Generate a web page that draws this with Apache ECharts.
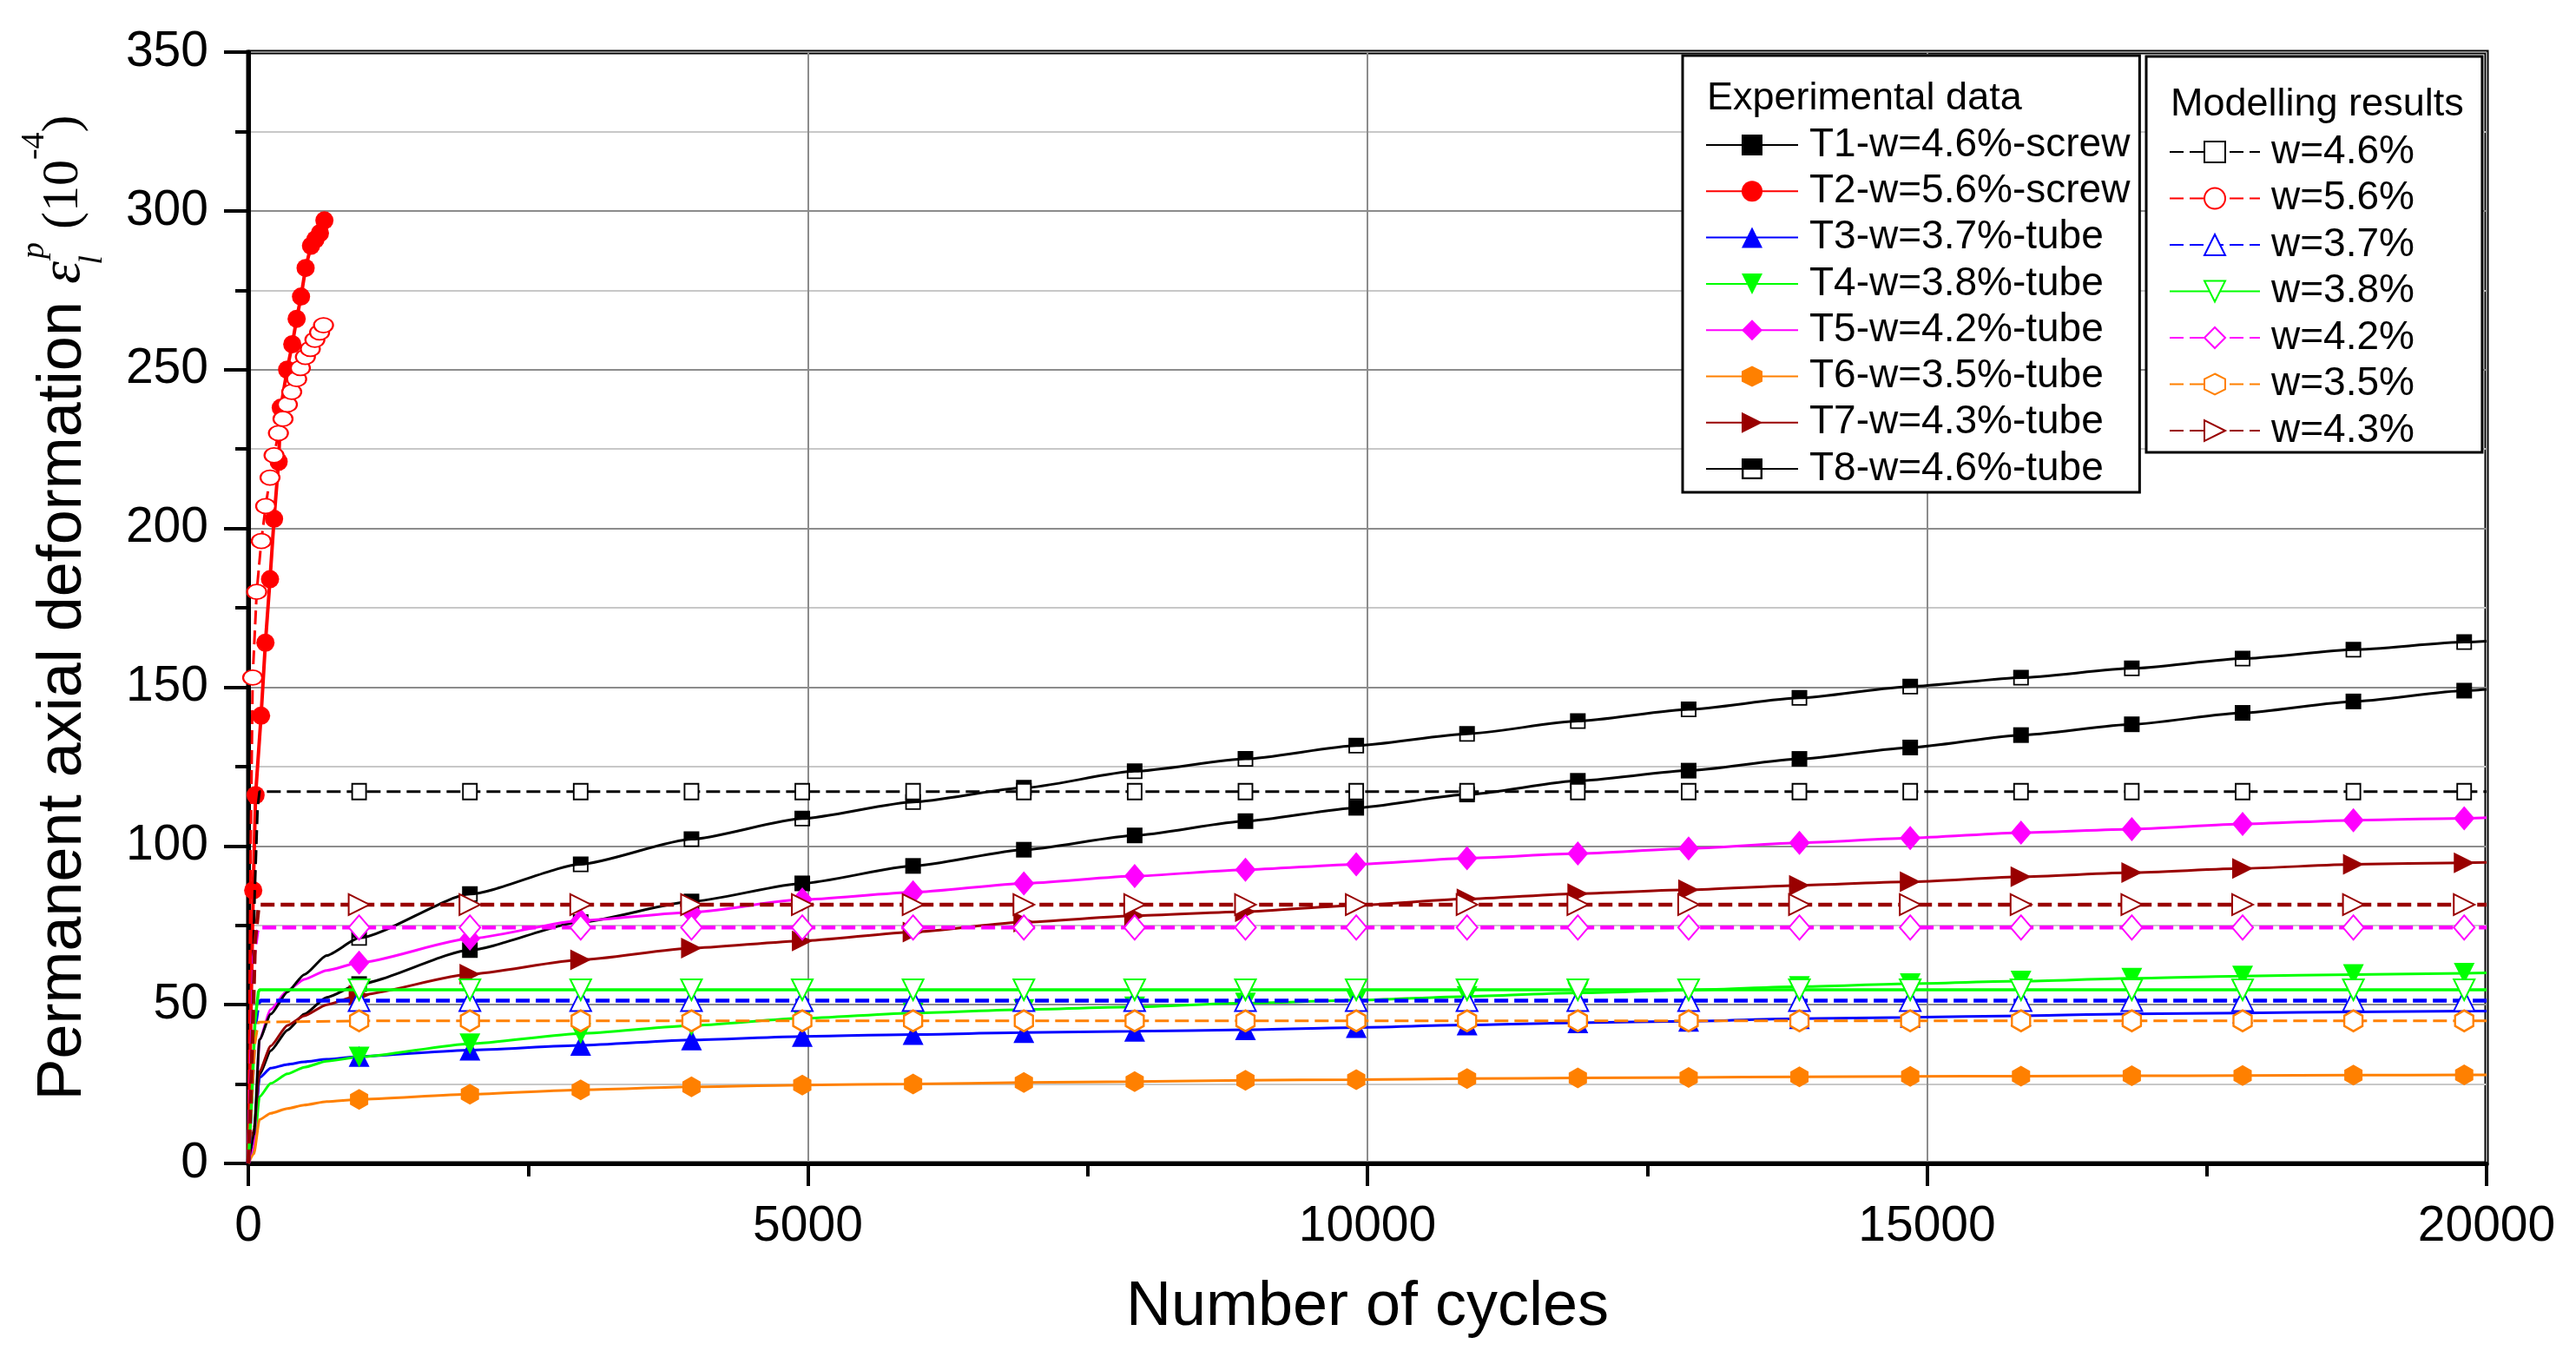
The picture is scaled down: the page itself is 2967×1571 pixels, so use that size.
<!DOCTYPE html>
<html><head><meta charset="utf-8">
<script src="https://cdn.jsdelivr.net/npm/echarts/dist/echarts.min.js"></script>
<style>html,body{margin:0;padding:0;background:#fff;}#c{width:2967px;height:1571px;}</style>
</head><body><div id="c"></div>
<script>
// ---------- data ----------
const xTicks = [0, 5000, 10000, 15000, 20000];
const yTicks = [0, 50, 100, 150, 200, 250, 300, 350];
const cycles = [990,1980,2970,3960,4950,5940,6930,7920,8910,9900,10890,11880,12870,13860,14850,15840,16830,17820,18810,19800];
const earlyCycles = [0, 50, 100, 200, 350, 500, 700];

const t1Early = [0, 8, 28, 35.5, 42, 47, 52.3];
const t1Vals = [56.5,67.2,76,82.5,88.2,93.7,98.8,103.3,107.8,112.0,116.2,120.5,123.7,127.4,131.0,134.9,138.3,141.9,145.5,148.9];
const t1End = 149.3;

const t2Cycles = [0,20,44,65,114,153,194,230,271,290,347,393,432,471,512,560,600,640,680];
const t2Vals = [0,40,86,116,141,164,184,203,221,238,250,258,266,273,282,289,291,293,297];

const t3Early = [0, 7.5, 27, 30, 31.2, 32, 32.8];
const t3Vals = [33.7,35.7,37.2,38.9,40.0,40.6,41.2,41.6,42.1,42.8,43.6,44.3,44.8,45.6,46.0,46.5,47.1,47.4,47.7,48.0];
const t3End = 48.0;

const t4Early = [0, 4, 21, 25.2, 28.2, 30.3, 32.2];
const t4Vals = [33.5,37.7,40.9,43.4,45.7,47.4,48.5,49.3,50.5,51.4,52.6,53.7,54.6,55.7,56.6,57.4,58.3,59.0,59.5,59.9];
const t4End = 60.0;

const t5Early = [0, 5, 39, 48.5, 54.5, 58, 60.8];
const t5Vals = [63.2,70.8,76.5,79.1,83.1,85.4,88.2,90.5,92.5,94.2,96.1,97.6,99.2,101.0,102.5,104.2,105.3,106.9,108.1,108.7];
const t5End = 108.9;

const t6Early = [0, 3, 13.8, 15.8, 17.3, 18.4, 19.5];
const t6Vals = [20.2,21.8,23.2,24.1,24.7,25.0,25.5,25.8,26.2,26.4,26.7,26.9,27.1,27.3,27.4,27.5,27.6,27.7,27.8,27.9];
const t6End = 27.9;

const t7Early = [0, 11, 29, 37, 43.5, 46.5, 50];
const t7Vals = [53,59.6,64.1,67.8,70.1,72.9,76.0,78.0,79.3,81.3,83.3,85.0,86.2,87.6,88.7,90.3,91.6,92.9,94.2,94.7];
const t7End = 94.8;

const t8Early = [0, 9, 39, 47, 54, 59.5, 65.5];
const t8Vals = [71,84.8,94.2,102.1,108.6,113.8,118.3,123.5,127.4,131.6,135.3,139.3,143.0,146.6,150.2,153.0,155.9,159.0,161.8,164.2];
const t8End = 164.5;

// modelling results
const m56Cycles = [0,10,20,39,75,116,155,194,230,269,310,349,388,432,465,510,554,595,637,672];
const m56Vals = [0,45,95,153,180,196,207,216,223,230,234.5,239,243,247,250.5,254,256.5,259.4,261.7,264];

const m46EarlyC = [0,30,57,83,100];
const m46EarlyV = [0,40,85,112,117.1];
const m46Vals = [117.1,117.1,117.1,117.1,117.1,117.1,117.1,117.1,117.1,117.1,117.1,117.1,117.1,117.1,117.1,117.1,117.1,117.1,117.1,117.1];

const m43EarlyC = [0,30,60,90,110];
const m43EarlyV = [0,30,70,80,81.5];
const m43Vals = [81.5,81.5,81.5,81.5,81.5,81.5,81.5,81.5,81.5,81.5,81.5,81.5,81.5,81.5,81.5,81.5,81.5,81.5,81.5,81.5];

const m42EarlyC = [0,25,50,80,100];
const m42EarlyV = [0,30,65,73,74.3];
const m42Vals = [74.3,74.3,74.3,74.3,74.3,74.3,74.3,74.3,74.3,74.3,74.3,74.3,74.3,74.3,74.3,74.3,74.3,74.3,74.3,74.3];

const m38EarlyC = [0,30,60,90,100];
const m38EarlyV = [0,20,45,54,54.7];
const m38Vals = [54.7,54.7,54.7,54.7,54.7,54.7,54.7,54.7,54.7,54.7,54.7,54.7,54.7,54.7,54.7,54.7,54.7,54.7,54.7,54.7];

const m37EarlyC = [0,30,60,90,110];
const m37EarlyV = [0,22,43,50.5,51.3];
const m37Vals = [51.3,51.3,51.3,51.3,51.3,51.3,51.3,51.3,51.3,51.3,51.3,51.3,51.3,51.3,51.3,51.3,51.3,51.3,51.3,51.3];

const m35EarlyC = [0,30,60,90,100];
const m35EarlyV = [0,20,38,44.5,44.9];
const m35Vals = [44.9,44.9,44.9,44.9,44.9,44.9,44.9,44.9,44.9,44.9,44.9,44.9,44.9,44.9,44.9,44.9,44.9,44.9,44.9,44.9];

const expNames = ['T1-w=4.6%-screw','T2-w=5.6%-screw','T3-w=3.7%-tube','T4-w=3.8%-tube','T5-w=4.2%-tube','T6-w=3.5%-tube','T7-w=4.3%-tube','T8-w=4.6%-tube'];
const modNames = ['w=4.6%','w=5.6%','w=3.7%','w=3.8%','w=4.2%','w=3.5%','w=4.3%'];

// ---------- helpers ----------
function expData(early, marks, end) {
  const out = earlyCycles.map((c, i) => ({ value: [c, early[i]], symbol: 'none' }));
  cycles.forEach((c, i) => out.push([c, marks[i]]));
  out.push({ value: [20000, end], symbol: 'none' });
  return out;
}
function modData(ec, ev, marks) {
  const out = ec.map((c, i) => ({ value: [c, ev[i]], symbol: 'none' }));
  cycles.forEach((c, i) => out.push([c, marks[i]]));
  out.push({ value: [20000, marks[marks.length - 1]], symbol: 'none' });
  return out;
}
function denseData(xs, ys, firstMark) {
  return xs.map((c, i) => i < firstMark ? { value: [c, ys[i]], symbol: 'none' } : [c, ys[i]]);
}

const HEX = 'path://M10,0 L19,5 L19,15 L10,20 L1,15 L1,5 Z';
const HALF = 'path://M0,0 L20,0 L20,20 L0,20 Z M2,10 L2,18 L18,18 L18,10 Z';

function exp(name, color, symbol, size, data, extra) {
  return Object.assign({
    name, type: 'line', data, symbol, symbolSize: size,
    smooth: 0.2, smoothMonotone: 'x',
    lineStyle: { color, width: 3, type: 'solid' },
    itemStyle: { color, borderWidth: 0 },
    z: 3
  }, extra || {});
}
function mod(name, color, symbol, size, data, lineType, width, extra) {
  return Object.assign({
    name, type: 'line', data, symbol, symbolSize: size,
    lineStyle: { color, width, type: lineType },
    itemStyle: { color, borderColor: color, borderWidth: 2.5 },
    z: 4
  }, extra || {});
}

const series = [
  exp('T1-w=4.6%-screw', '#000000', 'rect', 18, expData(t1Early, t1Vals, t1End)),
  exp('T2-w=5.6%-screw', '#ff0000', 'circle', 21, denseData(t2Cycles, t2Vals, 2), { lineStyle: { color: '#ff0000', width: 4 }, smooth: false }),
  exp('T3-w=3.7%-tube', '#0000ff', 'triangle', 24, expData(t3Early, t3Vals, t3End)),
  exp('T4-w=3.8%-tube', '#00ff00', 'triangle', 24, expData(t4Early, t4Vals, t4End), { symbolRotate: 180 }),
  exp('T5-w=4.2%-tube', '#ff00ff', 'diamond', [24, 28], expData(t5Early, t5Vals, t5End)),
  exp('T6-w=3.5%-tube', '#ff8000', HEX, [21, 24], expData(t6Early, t6Vals, t6End)),
  exp('T7-w=4.3%-tube', '#990000', 'triangle', 24, expData(t7Early, t7Vals, t7End), { symbolRotate: -90 }),
  exp('T8-w=4.6%-tube', '#000000', HALF, 18, expData(t8Early, t8Vals, t8End)),
  mod('w=4.6%', '#000000', 'emptyRect', [16, 18], modData(m46EarlyC, m46EarlyV, m46Vals), [16, 7], 3),
  mod('w=5.6%', '#ff0000', 'emptyCircle', [22, 17], denseData(m56Cycles, m56Vals, 3), [16, 7], 3),
  mod('w=3.7%', '#0000ff', 'emptyTriangle', 24, modData(m37EarlyC, m37EarlyV, m37Vals), [16, 7], 4.5),
  mod('w=3.8%', '#00ff00', 'emptyTriangle', 24, modData(m38EarlyC, m38EarlyV, m38Vals), 'solid', 3.5, { symbolRotate: 180 }),
  mod('w=4.2%', '#ff00ff', 'emptyDiamond', [24, 28], modData(m42EarlyC, m42EarlyV, m42Vals), [16, 7], 4.5),
  mod('w=3.5%', '#ff8000', HEX, [21, 24], modData(m35EarlyC, m35EarlyV, m35Vals), [16, 7], 3,
      { itemStyle: { color: '#ffffff', borderColor: '#ff8000', borderWidth: 2.5 } }),
  mod('w=4.3%', '#990000', 'emptyTriangle', 24, modData(m43EarlyC, m43EarlyV, m43Vals), [16, 7], 4.5, { symbolRotate: -90 })
];

const FONT = '"Liberation Sans", Arial, sans-serif';
const SERIF = '"Liberation Serif", "Times New Roman", serif';

const chart = echarts.init(document.getElementById('c'), null, { renderer: 'canvas' });
chart.setOption({
  animation: false,
  backgroundColor: '#ffffff',
  grid: { left: 286, right: 103, top: 60, bottom: 231, show: true, borderColor: '#000', borderWidth: 5, backgroundColor: 'transparent', containLabel: false },
  title: [
    { text: 'Experimental data', left: 1961, top: 86, padding: 5, textStyle: { fontSize: 45, fontWeight: 'normal', fontFamily: FONT, color: '#000' }, z: 10 },
    { text: 'Modelling results', left: 2495, top: 93, padding: 5, textStyle: { fontSize: 45, fontWeight: 'normal', fontFamily: FONT, color: '#000' }, z: 10 }
  ],
  legend: [
    {
      data: expNames, orient: 'vertical', left: 1938, top: 64,
      padding: [80, 11, 4, 26], itemGap: 7.3, itemWidth: 106, itemHeight: 30,
      backgroundColor: '#fff', borderColor: '#000', borderWidth: 3, selectedMode: false,
      textStyle: { fontSize: 46, fontFamily: FONT, color: '#000', lineHeight: 46, padding: [0, 0, 0, 8] }, z: 8
    },
    {
      data: modNames, orient: 'vertical', left: 2472, top: 65,
      padding: [87, 78, 2, 26], itemGap: 7.5, itemWidth: 104, itemHeight: 30,
      backgroundColor: '#fff', borderColor: '#000', borderWidth: 3, selectedMode: false,
      textStyle: { fontSize: 46, fontFamily: FONT, color: '#000', lineHeight: 46, padding: [0, 0, 0, 8] }, z: 8
    }
  ],
  xAxis: {
    type: 'value', min: xTicks[0], max: xTicks[xTicks.length - 1], interval: 5000,
    name: 'Number of cycles', nameLocation: 'middle', nameGap: 130,
    nameTextStyle: { fontSize: 72, fontFamily: FONT, color: '#000' },
    axisLine: { show: true, onZero: false, lineStyle: { color: '#000', width: 5 } },
    axisTick: { show: true, length: 26, lineStyle: { color: '#000', width: 4 } },
    minorTick: { show: true, splitNumber: 2, length: 15, lineStyle: { color: '#000', width: 4 } },
    axisLabel: { fontSize: 57, fontFamily: FONT, color: '#000', margin: 45, formatter: v => String(v) },
    splitLine: { show: true, lineStyle: { color: '#8c8c8c', width: 2 } },
    minorSplitLine: { show: false }
  },
  yAxis: {
    type: 'value', min: yTicks[0], max: yTicks[yTicks.length - 1], interval: 50,
    name: 'Permanent axial deformation {e|ε}{sub|l}{sup|p}{n| (10}{sup2|-4}{n|)}',
    nameLocation: 'middle', nameGap: 160,
    nameTextStyle: {
      fontSize: 72, fontFamily: FONT, color: '#000', lineHeight: 105,
      rich: {
        e: { fontSize: 66, fontFamily: SERIF, fontStyle: 'italic', color: '#000', verticalAlign: 'middle', lineHeight: 105 },
        sub: { fontSize: 38, fontFamily: SERIF, fontStyle: 'italic', color: '#000', verticalAlign: 'bottom', lineHeight: 40, width: 3 },
        sup: { fontSize: 38, fontFamily: SERIF, fontStyle: 'italic', color: '#000', verticalAlign: 'top', lineHeight: 40 },
        n: { fontSize: 60, fontFamily: SERIF, color: '#000', verticalAlign: 'middle', lineHeight: 105 },
        sup2: { fontSize: 38, fontFamily: SERIF, color: '#000', verticalAlign: 'top', lineHeight: 40 }
      }
    },
    axisLine: { show: true, onZero: false, lineStyle: { color: '#000', width: 5 } },
    axisTick: { show: true, length: 28, lineStyle: { color: '#000', width: 4 } },
    minorTick: { show: true, splitNumber: 2, length: 15, lineStyle: { color: '#000', width: 4 } },
    axisLabel: { fontSize: 57, fontFamily: FONT, color: '#000', margin: 46 },
    splitLine: { show: true, lineStyle: { color: '#8c8c8c', width: 2 } },
    minorSplitLine: { show: true, lineStyle: { color: '#c8c8c8', width: 2 } }
  },
  series
});
</script></body></html>
